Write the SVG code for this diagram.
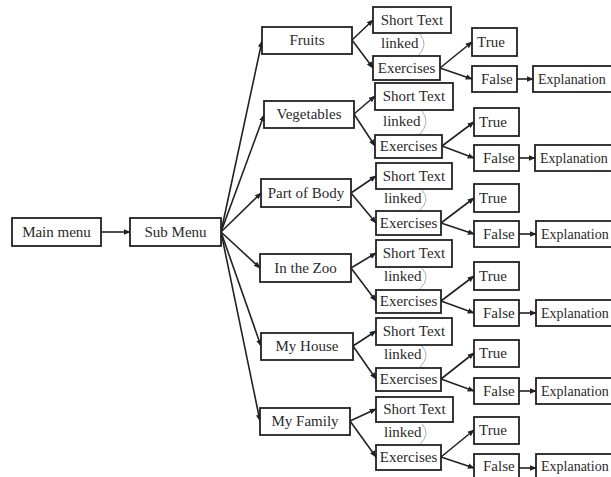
<svg xmlns="http://www.w3.org/2000/svg" width="611" height="477" viewBox="0 0 611 477">
<style>
  .box { fill: #ffffff; stroke: #222222; stroke-width: 1.8; }
  .t { font-family: "Liberation Serif", "Times New Roman", serif; font-size: 15px; fill: #2a2a2a; }
  .c { text-anchor: middle; }
  .ex { font-size: 14px; }
  .edge { fill: none; stroke: #222222; stroke-width: 1.6; marker-end: url(#ah); }
  .link { fill: none; stroke: #b0b0b0; stroke-width: 1; }
</style>
<defs>
  <marker id="ah" viewBox="0 0 10 10" refX="9" refY="5" markerWidth="7" markerHeight="7" markerUnits="userSpaceOnUse" orient="auto">
    <path d="M0,1 L10,5 L0,9 z" fill="#222222"/>
  </marker>
</defs>
<rect width="611" height="477" fill="#ffffff"/>

<g id="connectors">
  <line class="edge" x1="101" y1="232" x2="130" y2="232"/>
  <line class="edge" x1="221" y1="232" x2="262" y2="41"/>
  <line class="edge" x1="221" y1="232" x2="264" y2="115"/>
  <line class="edge" x1="221" y1="232" x2="261" y2="193"/>
  <line class="edge" x1="221" y1="232" x2="260" y2="268"/>
  <line class="edge" x1="221" y1="232" x2="261" y2="346"/>
  <line class="edge" x1="221" y1="232" x2="260" y2="421"/>
  <!-- G1 -->
  <line class="edge" x1="352" y1="40" x2="373" y2="20"/>
  <line class="edge" x1="352" y1="40" x2="373" y2="68"/>
  <line class="edge" x1="440" y1="68" x2="472" y2="42"/>
  <line class="edge" x1="440" y1="68" x2="472" y2="79"/>
  <line class="edge" x1="517" y1="79" x2="533" y2="79"/>
  <path class="link" d="M420 34 Q429 45 418 56"/>
  <!-- G2 -->
  <line class="edge" x1="354" y1="114" x2="375" y2="96"/>
  <line class="edge" x1="354" y1="114" x2="375" y2="146"/>
  <line class="edge" x1="442" y1="146" x2="474" y2="122"/>
  <line class="edge" x1="442" y1="146" x2="474" y2="158"/>
  <line class="edge" x1="519" y1="158" x2="535" y2="158"/>
  <path class="link" d="M422 111 Q431 122 420 134"/>
  <!-- G3 -->
  <line class="edge" x1="351" y1="193" x2="376" y2="176"/>
  <line class="edge" x1="351" y1="193" x2="376" y2="223"/>
  <line class="edge" x1="441" y1="223" x2="474" y2="198"/>
  <line class="edge" x1="441" y1="223" x2="474" y2="234"/>
  <line class="edge" x1="519" y1="234" x2="536" y2="234"/>
  <path class="link" d="M422 190 Q431 200 420 210"/>
  <!-- G4 -->
  <line class="edge" x1="351" y1="268" x2="376" y2="253"/>
  <line class="edge" x1="351" y1="268" x2="376" y2="301"/>
  <line class="edge" x1="441" y1="301" x2="474" y2="276"/>
  <line class="edge" x1="441" y1="301" x2="474" y2="313"/>
  <line class="edge" x1="519" y1="313" x2="536" y2="313"/>
  <path class="link" d="M422 268 Q431 278 420 289"/>
  <!-- G5 -->
  <line class="edge" x1="353" y1="346" x2="376" y2="331"/>
  <line class="edge" x1="353" y1="346" x2="376" y2="379"/>
  <line class="edge" x1="441" y1="379" x2="474" y2="353"/>
  <line class="edge" x1="441" y1="379" x2="474" y2="391"/>
  <line class="edge" x1="519" y1="391" x2="536" y2="391"/>
  <path class="link" d="M422 346 Q431 356 420 367"/>
  <!-- G6 -->
  <line class="edge" x1="350" y1="421" x2="376" y2="409"/>
  <line class="edge" x1="350" y1="421" x2="376" y2="457"/>
  <line class="edge" x1="441" y1="457" x2="474" y2="430"/>
  <line class="edge" x1="441" y1="457" x2="474" y2="468"/>
  <line class="edge" x1="519" y1="468" x2="536" y2="468"/>
  <path class="link" d="M422 424 Q431 434 420 444"/>
</g>

<g id="main-menu"><rect class="box" x="12" y="218" width="89" height="28"/><text class="t c" x="56.5" y="237">Main menu</text></g>
<g id="sub-menu"><rect class="box" x="130" y="218" width="91" height="28"/><text class="t c" x="175.5" y="237">Sub Menu</text></g>

<g id="fruits"><rect class="box" x="262" y="27" width="90" height="27"/><text class="t c" x="307" y="45">Fruits</text></g>
<g id="vegetables"><rect class="box" x="264" y="101" width="90" height="27"/><text class="t c" x="309" y="119">Vegetables</text></g>
<g id="part-of-body"><rect class="box" x="261" y="179" width="90" height="28"/><text class="t c" x="306" y="198">Part of Body</text></g>
<g id="in-the-zoo"><rect class="box" x="260" y="254" width="91" height="28"/><text class="t c" x="305.5" y="273">In the Zoo</text></g>
<g id="my-house"><rect class="box" x="261" y="333" width="92" height="27"/><text class="t c" x="307" y="351">My House</text></g>
<g id="my-family"><rect class="box" x="260" y="408" width="90" height="27"/><text class="t c" x="305" y="426">My Family</text></g>

<!-- Group 1 -->
<g id="g1-short-text"><rect class="box" x="373" y="7" width="78" height="26"/><text class="t c" x="412" y="25">Short Text</text></g>
<g id="g1-linked"><text class="t" x="381" y="48">linked</text></g>
<g id="g1-exercises"><rect class="box" x="373" y="56" width="67" height="24"/><text class="t c" x="406.5" y="73">Exercises</text></g>
<g id="g1-true"><rect class="box" x="472" y="28" width="45" height="28"/><text class="t" x="477" y="47">True</text></g>
<g id="g1-false"><rect class="box" x="472" y="66" width="45" height="26"/><text class="t" x="481" y="84">False</text></g>
<g id="g1-explanation"><rect class="box" x="533" y="66" width="100" height="26"/><text class="t ex" x="538" y="84">Explanation</text></g>

<!-- Group 2 -->
<g id="g2-short-text"><rect class="box" x="375" y="83" width="78" height="27"/><text class="t c" x="414" y="101">Short Text</text></g>
<g id="g2-linked"><text class="t" x="383" y="126">linked</text></g>
<g id="g2-exercises"><rect class="box" x="375" y="135" width="67" height="23"/><text class="t c" x="408.5" y="151">Exercises</text></g>
<g id="g2-true"><rect class="box" x="474" y="108" width="45" height="28"/><text class="t" x="479" y="127">True</text></g>
<g id="g2-false"><rect class="box" x="474" y="145" width="45" height="26"/><text class="t" x="483" y="163">False</text></g>
<g id="g2-explanation"><rect class="box" x="535" y="145" width="100" height="26"/><text class="t ex" x="540" y="163">Explanation</text></g>

<!-- Group 3 -->
<g id="g3-short-text"><rect class="box" x="376" y="163" width="76" height="26"/><text class="t c" x="414" y="181">Short Text</text></g>
<g id="g3-linked"><text class="t" x="384" y="203">linked</text></g>
<g id="g3-exercises"><rect class="box" x="376" y="211" width="65" height="24"/><text class="t c" x="408.5" y="228">Exercises</text></g>
<g id="g3-true"><rect class="box" x="474" y="184" width="45" height="28"/><text class="t" x="479" y="203">True</text></g>
<g id="g3-false"><rect class="box" x="474" y="221" width="45" height="26"/><text class="t" x="483" y="239">False</text></g>
<g id="g3-explanation"><rect class="box" x="536" y="221" width="100" height="26"/><text class="t ex" x="541" y="239">Explanation</text></g>

<!-- Group 4 -->
<g id="g4-short-text"><rect class="box" x="376" y="240" width="76" height="27"/><text class="t c" x="414" y="258">Short Text</text></g>
<g id="g4-linked"><text class="t" x="384" y="281">linked</text></g>
<g id="g4-exercises"><rect class="box" x="376" y="290" width="65" height="23"/><text class="t c" x="408.5" y="306">Exercises</text></g>
<g id="g4-true"><rect class="box" x="474" y="262" width="45" height="28"/><text class="t" x="479" y="281">True</text></g>
<g id="g4-false"><rect class="box" x="474" y="300" width="45" height="26"/><text class="t" x="483" y="318">False</text></g>
<g id="g4-explanation"><rect class="box" x="536" y="300" width="100" height="26"/><text class="t ex" x="541" y="318">Explanation</text></g>

<!-- Group 5 -->
<g id="g5-short-text"><rect class="box" x="376" y="318" width="76" height="27"/><text class="t c" x="414" y="336">Short Text</text></g>
<g id="g5-linked"><text class="t" x="384" y="359">linked</text></g>
<g id="g5-exercises"><rect class="box" x="376" y="368" width="65" height="23"/><text class="t c" x="408.5" y="384">Exercises</text></g>
<g id="g5-true"><rect class="box" x="474" y="340" width="45" height="27"/><text class="t" x="479" y="358">True</text></g>
<g id="g5-false"><rect class="box" x="474" y="378" width="45" height="26"/><text class="t" x="483" y="396">False</text></g>
<g id="g5-explanation"><rect class="box" x="536" y="378" width="100" height="26"/><text class="t ex" x="541" y="396">Explanation</text></g>

<!-- Group 6 -->
<g id="g6-short-text"><rect class="box" x="376" y="397" width="77" height="25"/><text class="t c" x="414.5" y="414">Short Text</text></g>
<g id="g6-linked"><text class="t" x="384" y="437">linked</text></g>
<g id="g6-exercises"><rect class="box" x="376" y="445" width="65" height="25"/><text class="t c" x="408.5" y="462">Exercises</text></g>
<g id="g6-true"><rect class="box" x="474" y="417" width="45" height="27"/><text class="t" x="479" y="435">True</text></g>
<g id="g6-false"><rect class="box" x="474" y="454" width="45" height="28"/><text class="t" x="483" y="471">False</text></g>
<g id="g6-explanation"><rect class="box" x="536" y="454" width="100" height="28"/><text class="t ex" x="541" y="471">Explanation</text></g>
</svg>
